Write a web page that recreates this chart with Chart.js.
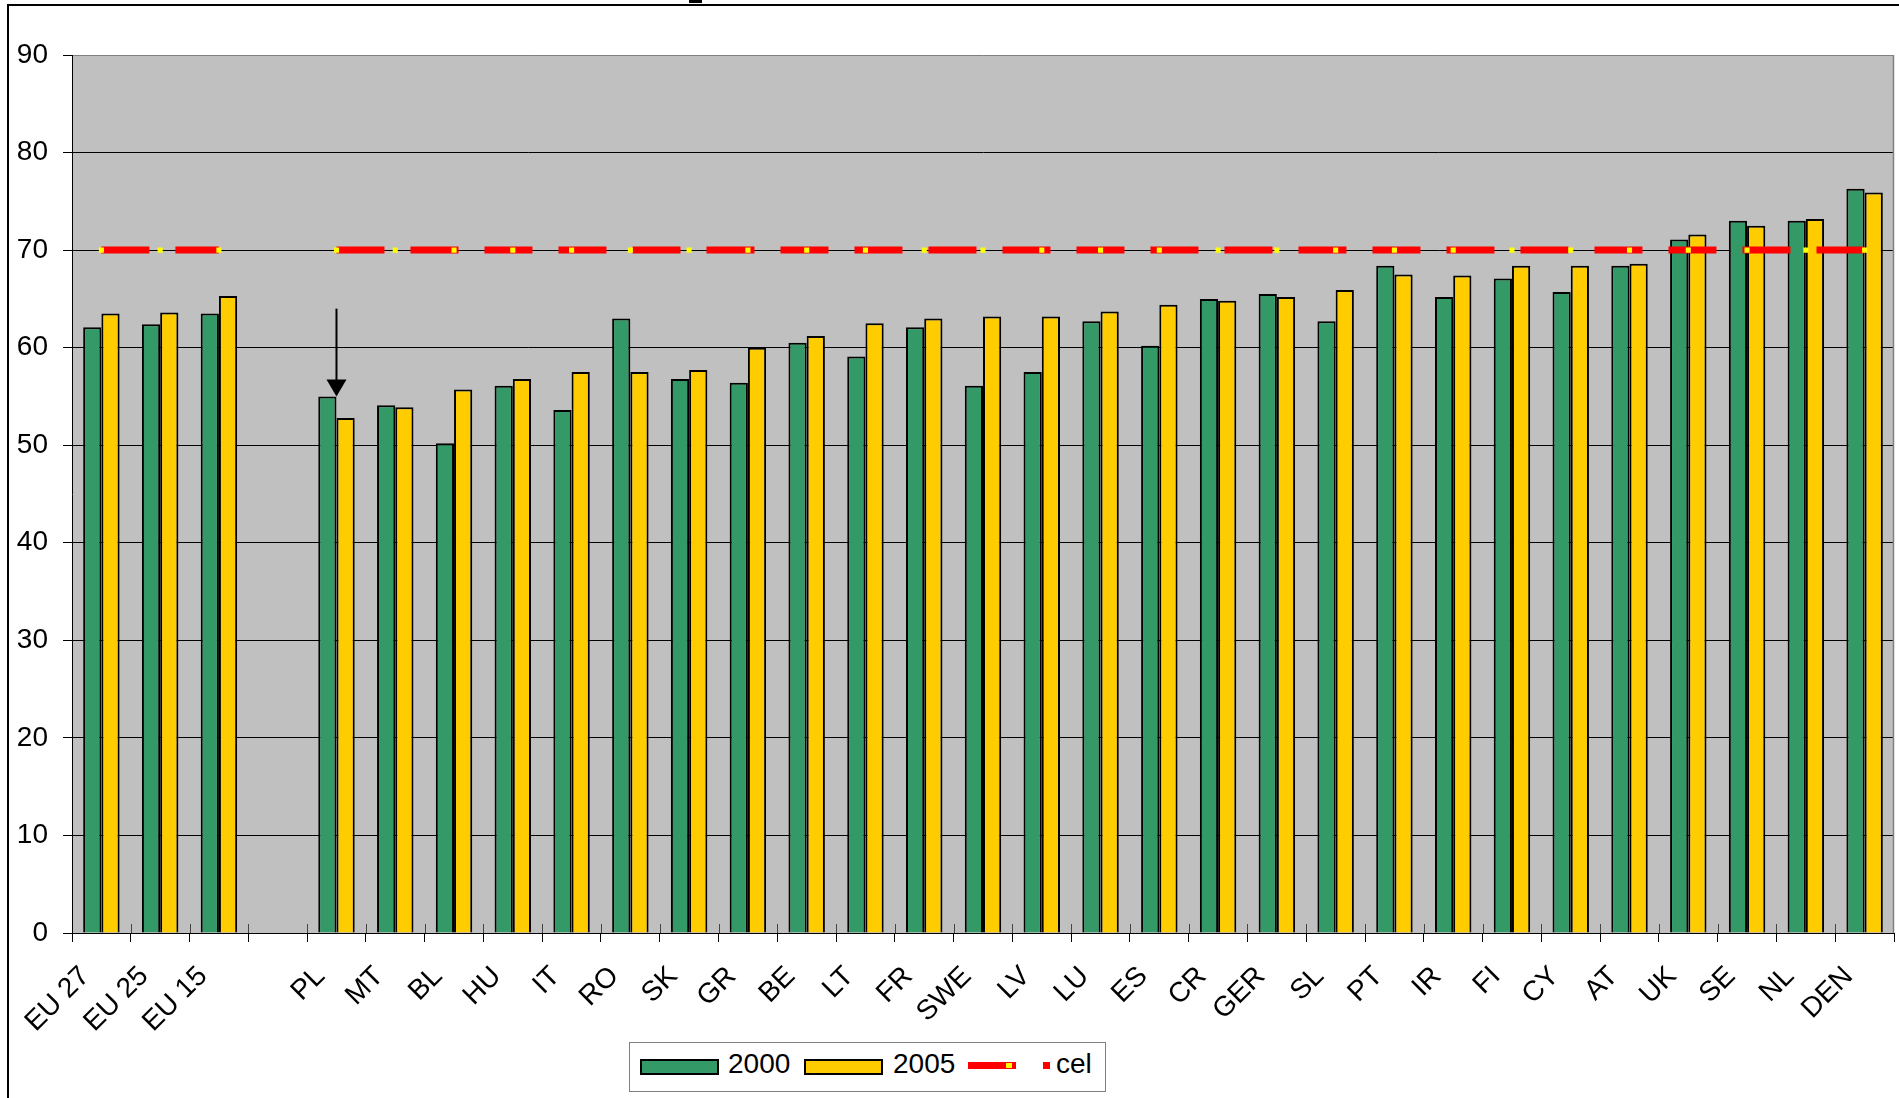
<!DOCTYPE html>
<html lang="pl">
<head>
  <meta charset="UTF-8" />
  <title>Wskaźnik zatrudnienia 2000 / 2005</title>
  <script src="https://cdn.jsdelivr.net/npm/chart.js"></script>
  <style>
    html, body { margin: 0; padding: 0; background: #fff; overflow: hidden; }
    body { width: 1899px; height: 1098px; position: relative; font-family: 'Liberation Sans', Arial, sans-serif; color: #000; }
    #frame { position: absolute; left: 7px; top: 4px; width: 2000px; height: 2000px; border-left: 2px solid #000; border-top: 2px solid #000; }
    #stub { position: absolute; left: 689px; top: 0; width: 13px; height: 3px; background: #000; }
    #wrap { position: absolute; left: 0; top: 0; width: 1899px; height: 1098px; }
    /* legenda */
    #legend { position: absolute; left: 629px; top: 1042px; width: 477px; height: 50px; border: 1px solid #808080; box-sizing: border-box; background: #fff; }
    .sw { position: absolute; box-sizing: border-box; }
    .lbl { position: absolute; font-size: 28px; line-height: 28px; white-space: nowrap; }
  </style>
</head>
<body>
  <div id="frame"></div>
  <div id="stub"></div>
  <div id="wrap"><canvas id="wykres"></canvas></div>

  <div id="legend"></div>
  <div class="sw" style="left:640px;top:1059px;width:79px;height:16px;background:#339966;border:2px solid #000"></div>
  <div class="lbl" style="left:728px;top:1050px">2000</div>
  <div class="sw" style="left:804px;top:1059px;width:79px;height:16px;background:#ffcc00;border:2px solid #000"></div>
  <div class="lbl" style="left:893px;top:1050px">2005</div>
  <div class="sw" style="left:968px;top:1062px;width:48px;height:7px;background:#ff0000"></div>
  <div class="sw" style="left:1006px;top:1063px;width:6px;height:5px;background:#ffff00"></div>
  <div class="sw" style="left:1043px;top:1062px;width:7px;height:7px;background:#ff0000"></div>
  <div class="lbl" style="left:1056px;top:1050px">cel</div>

  <script>
    // dane
    const kraje = ['EU 27', 'EU 25', 'EU 15', '', 'PL', 'MT', 'BL', 'HU', 'IT', 'RO', 'SK', 'GR', 'BE', 'LT', 'FR',
      'SWE', 'LV', 'LU', 'ES', 'CR', 'GER', 'SL', 'PT', 'IR', 'FI', 'CY', 'AT', 'UK', 'SE', 'NL', 'DEN']
    const rok2000 = [62.1, 62.4, 63.5, null, 55.0, 54.1, 50.2, 56.1, 53.6, 63.0, 56.8, 56.4, 60.5, 59.1, 62.1,
      56.1, 57.5, 62.7, 60.2, 65.0, 65.5, 62.7, 68.4, 65.2, 67.1, 65.7, 68.4, 71.1, 73.0, 73.0, 76.3]
    const rok2005 = [63.5, 63.6, 65.3, null, 52.8, 53.9, 55.7, 56.8, 57.5, 57.5, 57.7, 60.0, 61.2, 62.5, 63.0,
      63.2, 63.2, 63.7, 64.4, 64.8, 65.2, 65.9, 67.5, 67.4, 68.4, 68.4, 68.6, 71.6, 72.5, 73.2, 75.9]
    const cel = [70, 70, 70, null, 70, 70, 70, 70, 70, 70, 70, 70, 70, 70, 70,
      70, 70, 70, 70, 70, 70, 70, 70, 70, 70, 70, 70, 70, 70, 70, 70]
    const osY = [0, 10, 20, 30, 40, 50, 60, 70, 80, 90]
    // strzałka nad PL
    const strzalkaKraj = 'PL'
    const strzalkaOd = 64
    const strzalkaDo = 55.0

    const font = { family: "'Liberation Sans', Arial, sans-serif", size: 28 }

    const tloWykresu = {
      id: 'tloWykresu',
      beforeDraw(chart) {
        const { ctx, chartArea: a } = chart
        ctx.save()
        ctx.fillStyle = '#c0c0c0'
        ctx.fillRect(a.left, a.top, a.right - a.left, a.bottom - a.top)
        ctx.restore()
      },
      afterDraw(chart) {
        const { ctx, chartArea: a, scales } = chart
        ctx.save()
        // prawa krawedz obszaru
        ctx.strokeStyle = '#808080'
        ctx.lineWidth = 1.5
        ctx.beginPath()
        ctx.moveTo(a.right - 0.5, a.top)
        ctx.lineTo(a.right - 0.5, a.bottom)
        ctx.stroke()
        // kreski podzialu nad osia X
        const x = scales.x
        const w = (a.right - a.left) / kraje.length
        ctx.strokeStyle = '#444'
        ctx.lineWidth = 1
        for (let i = 1; i < kraje.length; i++) {
          const px = Math.round(a.left + i * w) + 0.5
          ctx.beginPath()
          ctx.moveTo(px, a.bottom - 9)
          ctx.lineTo(px, a.bottom)
          ctx.stroke()
        }
        // strzalka
        const sx = x.getPixelForValue(kraje.indexOf(strzalkaKraj))
        const y1 = scales.y.getPixelForValue(strzalkaOd)
        const y2 = scales.y.getPixelForValue(strzalkaDo)
        ctx.strokeStyle = '#000'
        ctx.lineWidth = 2
        ctx.beginPath()
        ctx.moveTo(sx, y1)
        ctx.lineTo(sx, y2 - 14)
        ctx.stroke()
        ctx.fillStyle = '#000'
        ctx.beginPath()
        ctx.moveTo(sx - 10, y2 - 17)
        ctx.lineTo(sx + 10, y2 - 17)
        ctx.lineTo(sx, y2)
        ctx.closePath()
        ctx.fill()
        ctx.restore()
      }
    }

    new Chart(document.getElementById('wykres'), {
      type: 'bar',
      data: {
        labels: kraje,
        datasets: [
          {
            type: 'line',
            label: 'cel',
            data: cel,
            order: 0,
            borderColor: '#ff0000',
            borderWidth: 7,
            borderDash: [48, 26],
            borderCapStyle: 'butt',
            spanGaps: false,
            fill: false,
            pointStyle: 'rect',
            pointRadius: 3.6,
            pointBackgroundColor: '#ffff00',
            pointBorderWidth: 0,
            pointHoverRadius: 3.6
          },
          {
            label: '2000',
            data: rok2000,
            order: 1,
            backgroundColor: '#339966',
            borderColor: '#000',
            borderWidth: 2,
            categoryPercentage: 0.62,
            barPercentage: 1.0
          },
          {
            label: '2005',
            data: rok2005,
            order: 1,
            backgroundColor: '#ffcc00',
            borderColor: '#000',
            borderWidth: 2,
            categoryPercentage: 0.62,
            barPercentage: 1.0
          }
        ]
      },
      options: {
        responsive: true,
        maintainAspectRatio: false,
        animation: false,
        devicePixelRatio: 1,
        layout: { padding: { top: 55, right: 5, left: 0, bottom: 0 } },
        plugins: {
          legend: { display: false },
          tooltip: { enabled: false }
        },
        scales: {
          x: {
            offset: true,
            grid: { offset: true, drawOnChartArea: false, tickLength: 9, tickColor: '#000', color: '#000' },
            border: { display: true, color: '#000', width: 1 },
            ticks: {
              autoSkip: false, minRotation: 45, maxRotation: 45,
              font: font, color: '#000', padding: 18, labelOffset: -16
            },
            afterFit(s) {
              s.height = 165
              s.paddingLeft = 0
              s.paddingRight = 0
            }
          },
          y: {
            min: 0,
            max: 90,
            afterBuildTicks(s) { s.ticks = osY.map(v => ({ value: v })) },
            grid: {
              color: c => (c.tick && c.tick.value === 90 ? '#808080' : '#000'),
              lineWidth: 1,
              tickLength: 9,
              tickColor: '#000'
            },
            border: { display: true, color: '#000', width: 1 },
            ticks: { font: font, color: '#000', padding: 15 },
            afterFit(s) { s.width = 72 }
          }
        }
      },
      plugins: [tloWykresu]
    })
  </script>
</body>
</html>
